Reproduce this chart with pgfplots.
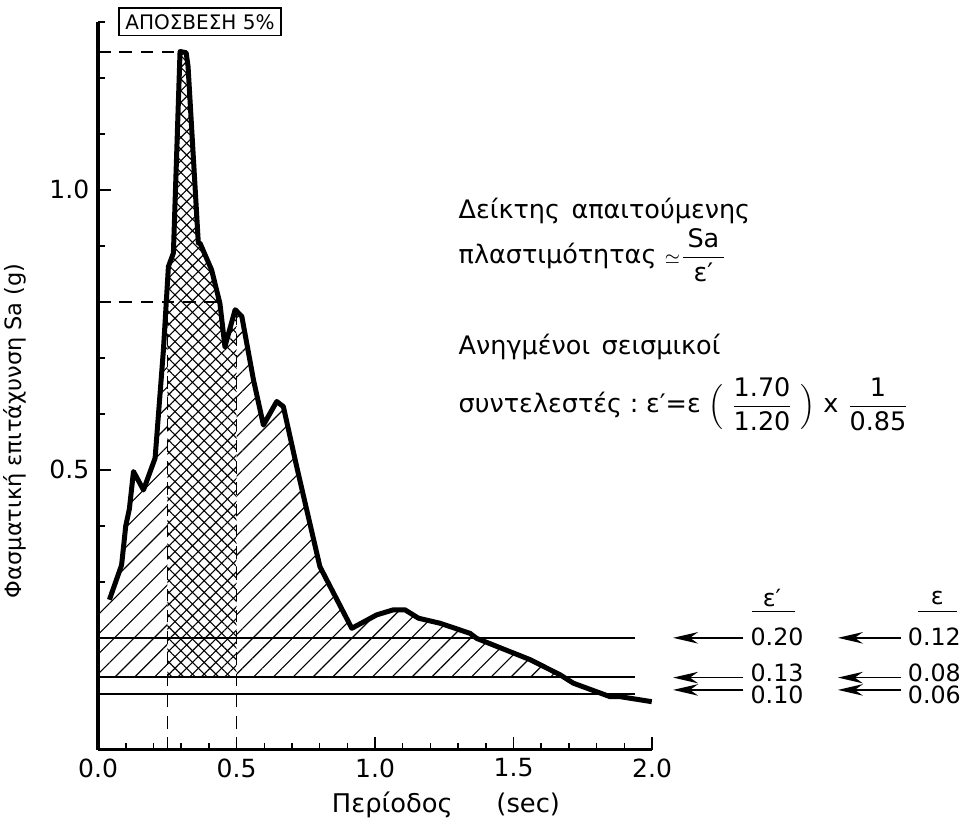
\documentclass[border=0pt]{standalone}
\usepackage{fontspec}
\setmainfont{DejaVu Sans}
\usepackage{pgfplots}
\pgfplotsset{compat=1.18}
\usepackage{pgfplotstable}
\usepgfplotslibrary{fillbetween}
\usetikzlibrary{patterns.meta,arrows.meta}

% spectral acceleration, 5% damping
\pgfplotstableread{
T     Sa
0.041 0.268
0.085 0.330
0.100 0.400
0.113 0.430
0.128 0.497
0.164 0.464
0.206 0.521
0.236 0.714
0.254 0.863
0.272 0.887
0.296 1.247
0.318 1.245
0.325 1.220
0.362 0.905
0.368 0.905
0.410 0.857
0.440 0.797
0.458 0.720
0.495 0.786
0.519 0.774
0.561 0.661
0.597 0.580
0.645 0.622
0.669 0.613
0.717 0.506
0.801 0.327
0.916 0.217
1.006 0.241
1.066 0.250
1.108 0.250
1.157 0.235
1.235 0.226
1.343 0.208
1.367 0.199
1.560 0.161
1.668 0.134
1.716 0.119
1.848 0.095
1.884 0.095
1.999 0.086
}\spectrum

\newcommand{\txt}{\fontsize{9.5}{11}\selectfont}
\newcommand{\rtxt}{\fontsize{10.2}{12}\selectfont}
\tikzset{lvlarrow/.style={line width=0.6pt, -{Stealth[length=10pt, width=4.6pt]}}}

\begin{document}
\begin{tikzpicture}
\begin{axis}[
  scale only axis, width=221.6pt, height=291.2pt,
  xmin=0, xmax=2, ymin=0, ymax=1.3,
  axis lines=left, axis line style={-, line width=1.3pt},
  clip=false,
  xtick={0,0.5,1,1.5,2},
  minor xtick={0.1,0.2,0.3,0.4,0.6,0.7,0.8,0.9,1.1,1.2,1.3,1.4,1.6,1.7,1.8,1.9},
  ytick={0.5,1},
  minor ytick={0.1,0.2,0.3,0.4,0.6,0.7,0.8,0.9,1.1,1.2,1.3},
  tick align=inside,
  major tick length=5pt, minor tick length=2.6pt,
  tick style={black, line width=0.6pt},
  /pgf/number format/fixed, /pgf/number format/fixed zerofill,
  /pgf/number format/precision=1, /pgf/number format/assume math mode=true,
  ticklabel style={font=\fontsize{10}{12}\selectfont},
]
\addplot[name path=curve, draw=none] table[x=T, y=Sa] {\spectrum};
\addplot[name path=base, draw=none] coordinates {(0,0.13) (2,0.13)};

% diagonal hatching between curve and 0.13
\addplot[draw=none, pattern={Lines[angle=45, distance=5.6pt, line width=0.45pt]}]
  fill between[of=curve and base, soft clip={domain=0.041:1.681}];
\addplot[draw=none, pattern={Lines[angle=45, distance=5.6pt, line width=0.45pt]}]
  coordinates {(0,0.13) (0,0.26) (0.041,0.268) (0.041,0.13)} -- cycle;

% cross hatching for 0.25 - 0.50 s
\addplot[draw=none, fill=white]
  fill between[of=curve and base, soft clip={domain=0.25:0.5}];
\addplot[draw=none, pattern={Lines[angle=45, distance=3.3pt, line width=0.45pt]}]
  fill between[of=curve and base, soft clip={domain=0.25:0.5}];
\addplot[draw=none, pattern={Lines[angle=-45, distance=3.3pt, line width=0.45pt]}]
  fill between[of=curve and base, soft clip={domain=0.25:0.5}];

% seismic coefficient levels
\addplot[black, line width=0.6pt] coordinates {(0,0.20) (1.94,0.20)};
\addplot[black, line width=0.6pt] coordinates {(0,0.13) (1.94,0.13)};
\addplot[black, line width=0.6pt] coordinates {(0,0.10) (1.94,0.10)};

% dashed guides
\addplot[black, line width=0.6pt, dash pattern=on 5pt off 3.5pt] coordinates {(0.25,0) (0.25,0.83)};
\addplot[black, line width=0.6pt, dash pattern=on 5pt off 3.5pt] coordinates {(0.5,0) (0.5,0.784)};
\addplot[black, line width=0.6pt, dash pattern=on 5pt off 3.5pt] coordinates {(0,1.246) (0.298,1.246)};
\addplot[black, line width=0.6pt, dash pattern=on 5pt off 3.5pt] coordinates {(0,0.80) (0.44,0.80)};

\addplot[black, line width=2pt, line join=round] table[x=T, y=Sa] {\spectrum};

% labels
\node[draw, line width=0.6pt, inner sep=2.5pt, font=\fontsize{8}{9}\selectfont]
  at (axis cs:0.368,1.30) {ΑΠΟΣΒΕΣΗ 5\%};
\node[font=\fontsize{10.3}{12}\selectfont] at (axis cs:1.256,-0.098) {Περίοδος\hspace{1.7em}(sec)};
\node[font=\fontsize{9}{11}\selectfont, rotate=90] at (axis cs:-0.30,0.57) {Φασματική επιτάχυνση Sa (g)};

\node[anchor=west, font=\rtxt] at (axis cs:1.27,0.962) {Δείκτης\hspace{0.45em}απαιτούμενης};
\node[anchor=west, font=\rtxt] at (axis cs:1.27,0.884)
  {πλαστιμότητας ${\scriptstyle\simeq}\displaystyle\frac{\mbox{\,Sa\,}}{\mbox{ε′}}$};
\node[anchor=west, font=\rtxt] at (axis cs:1.27,0.72) {Ανηγμένοι\hspace{0.45em}σεισμικοί};
\node[anchor=west, font=\rtxt] at (axis cs:1.27,0.618)
  {συντελεστές\hspace{0.3em}:\hspace{0.3em}ε′=ε $\displaystyle\Bigl(\;\frac{\mbox{1.70}}{\mbox{1.20}}\;\Bigr)$ x $\displaystyle\frac{\mbox{\,1\,}}{\mbox{0.85}}$};

% epsilon' and epsilon columns
\node[font=\txt] at (axis cs:2.433,0.271) {ε′};
\draw[line width=0.5pt] (axis cs:2.36,0.247) -- (axis cs:2.516,0.247);
\node[font=\txt] at (axis cs:3.03,0.271) {ε};
\draw[line width=0.5pt] (axis cs:2.96,0.247) -- (axis cs:3.10,0.247);

\draw[lvlarrow] (axis cs:2.33,0.20) -- (axis cs:2.076,0.20);
\draw[lvlarrow] (axis cs:2.90,0.20) -- (axis cs:2.671,0.20);
\node[anchor=west, font=\txt, inner sep=1pt] at (axis cs:2.345,0.202) {0.20};
\node[anchor=west, font=\txt, inner sep=1pt] at (axis cs:2.913,0.202) {0.12};

\draw[lvlarrow] (axis cs:2.33,0.129) -- (axis cs:2.076,0.129);
\draw[lvlarrow] (axis cs:2.90,0.129) -- (axis cs:2.671,0.129);
\node[anchor=west, font=\txt, inner sep=1pt] at (axis cs:2.345,0.137) {0.13};
\node[anchor=west, font=\txt, inner sep=1pt] at (axis cs:2.913,0.137) {0.08};

\draw[lvlarrow] (axis cs:2.33,0.107) -- (axis cs:2.076,0.107);
\draw[lvlarrow] (axis cs:2.90,0.107) -- (axis cs:2.671,0.107);
\node[anchor=west, font=\txt, inner sep=1pt] at (axis cs:2.345,0.099) {0.10};
\node[anchor=west, font=\txt, inner sep=1pt] at (axis cs:2.913,0.099) {0.06};

\coordinate (bbsw) at (axis cs:-0.354,-0.146);
\coordinate (bbne) at (axis cs:3.166,1.339);
\end{axis}
\pgfresetboundingbox
\useasboundingbox (bbsw) rectangle (bbne);
\end{tikzpicture}
\end{document}
